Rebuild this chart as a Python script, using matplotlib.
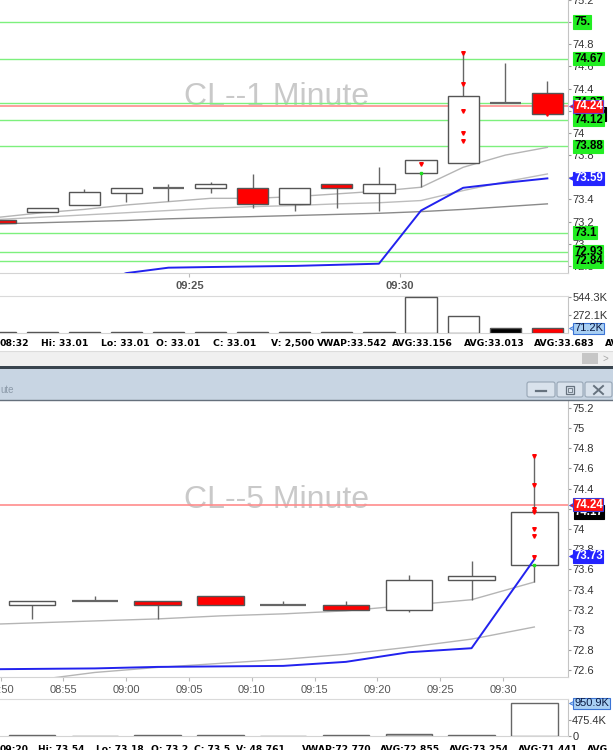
import matplotlib
matplotlib.use("Agg")
import numpy as np
import matplotlib.pyplot as plt
import matplotlib.transforms as mtransforms
from matplotlib.patches import Rectangle, FancyBboxPatch
from matplotlib.lines import Line2D

plt.rcParams['font.family'] = ['Liberation Sans', 'DejaVu Sans']

# ---------------- data ----------------
# 1 minute bars, minutes after 09:00
m1_minute = [20, 21, 22, 23, 24, 25, 26, 27, 28, 29, 30, 31, 32, 33]
m1_open = [73.21, 73.29, 73.35, 73.46, 73.50, 73.50, 73.50, 73.36, 73.54, 73.46, 73.64, 73.73, 74.27, 74.36]
m1_high = [73.21, 73.32, 73.49, 73.50, 73.54, 73.56, 73.63, 73.50, 73.54, 73.69, 73.76, 74.73, 74.63, 74.47]
m1_low = [73.19, 73.29, 73.35, 73.38, 73.39, 73.46, 73.32, 73.30, 73.32, 73.30, 73.51, 73.73, 74.27, 74.16]
m1_close = [73.19, 73.32, 73.47, 73.50, 73.50, 73.54, 73.36, 73.50, 73.50, 73.54, 73.76, 74.33, 74.27, 74.17]
m1_volume = [12, 9, 16, 10, 12, 9, 15, 11, 13, 14, 544.3, 260.2, 75.2, 71.2]  # thousands
m1_ma_fast = [73.24, 73.28, 73.31, 73.35, 73.38, 73.41, 73.41, 73.425, 73.45, 73.475, 73.51, 73.69, 73.80, 73.87]
m1_ma_mid = [73.22, 73.24, 73.26, 73.28, 73.30, 73.32, 73.335, 73.345, 73.36, 73.37, 73.39, 73.48, 73.56, 73.63]
m1_ma_slow = [73.18, 73.19, 73.20, 73.21, 73.225, 73.235, 73.245, 73.255, 73.265, 73.275, 73.29, 73.31, 73.335, 73.36]
m1_vwap = [np.nan, np.nan, 72.60, 72.735, 72.784, 72.79, 72.795, 72.80, 72.81, 72.82, 73.30, 73.505, 73.55, 73.59]

# 5 minute bars, minutes after 09:00 (08:50 .. 09:30)
m5_minute = [-10, -5, 0, 5, 10, 15, 20, 25, 30]
m5_open = [73.25, 73.29, 73.29, 73.34, 73.245, 73.25, 73.20, 73.50, 73.64]
m5_high = [73.29, 73.34, 73.29, 73.34, 73.29, 73.29, 73.54, 73.68, 74.73]
m5_low = [73.11, 73.29, 73.11, 73.245, 73.245, 73.20, 73.18, 73.30, 73.48]
m5_close = [73.29, 73.29, 73.245, 73.245, 73.245, 73.20, 73.50, 73.53, 74.17]
m5_volume = [18, 14, 20, 16, 14, 30, 48.761, 28, 950.9]  # thousands
m5_line_minute = [-15, -10, -5, 0, 5, 10, 15, 20, 25, 30]
m5_ma_fast = [73.05, 73.07, 73.09, 73.11, 73.14, 73.16, 73.19, 73.245, 73.30, 73.475]
m5_ma_slow = [72.42, 72.50, 72.58, 72.63, 72.67, 72.71, 72.76, 72.83, 72.91, 73.03]
m5_vwap = [72.61, 72.615, 72.62, 72.635, 72.64, 72.645, 72.685, 72.78, 72.82, 73.70]

# trade markers
trade_minute = [31, 31, 31, 31, 31, 30, 33]
trade_price = [74.72, 74.44, 74.20, 74.00, 73.93, 73.72, 74.17]
fill_minute = [30]
fill_price = [73.64]

# levels and tags
level_prices = [75.0, 74.67, 74.27, 74.12, 73.88, 73.1, 72.93, 72.84]
level_labels = ['75.', '74.67', '74.27', '74.12', '73.88', '73.1', '72.93', '72.84']
last_price = 74.24
last_close = 74.17
vwap_last_1 = 73.59
vwap_last_5 = 73.73

status_1 = ['08:32', 'Hi: 33.01', 'Lo: 33.01', 'O: 33.01', 'C: 33.01', 'V: 2,500',
            'VWAP:33.542', 'AVG:33.156', 'AVG:33.013', 'AVG:33.683', 'AV']
status_5 = ['09:20', 'Hi: 73.54', 'Lo: 73.18', 'O: 73.2', 'C: 73.5', 'V: 48,761',
            'VWAP:72.770', 'AVG:72.855', 'AVG:73.254', 'AVG:71.441', 'AVG']

# ---------------- layout ----------------
W, H = 613, 750
fig = plt.figure(figsize=(W / 100, H / 100), dpi=100)
fig.patch.set_facecolor('white')
fig_px = mtransforms.Affine2D().scale(1 / W, -1 / H).translate(0, 1) + fig.transFigure


def px_rect(x0, y0, x1, y1):
    return [x0 / W, 1 - y1 / H, (x1 - x0) / W, (y1 - y0) / H]


ax1 = fig.add_axes(px_rect(0, 0, 568, 273))
axv1 = fig.add_axes(px_rect(0, 296, 568, 333))
ax5 = fig.add_axes(px_rect(0, 401, 568, 677))
axv5 = fig.add_axes(px_rect(0, 699, 568, 736))

for ax in (ax1, axv1, ax5, axv5):
    ax.set_facecolor('white')
    ax.spines['left'].set_visible(False)
    ax.spines['right'].set_color('#c4c4c4')
    ax.spines['top'].set_color('#dadada')
    ax.spines['bottom'].set_color('#d4d4d4')
    ax.yaxis.tick_right()
    ax.tick_params(axis='y', length=2, width=0.8, color='#999999', labelsize=8,
                   labelcolor='#333333', pad=1)
ax1.spines['top'].set_visible(False)
ax5.spines['top'].set_visible(False)


def draw_candles(ax, centers, o, h, l, c, width):
    for x, op, hi, lo, cl in zip(centers, o, h, l, c):
        ax.vlines(x, lo, hi, color='#666666', lw=1, zorder=3)
        if cl == op:
            ax.hlines(cl, x - width / 2, x + width / 2, color='#666666', lw=1.6, zorder=4)
        else:
            fc = 'white' if cl > op else '#ff0000'
            ax.bar(x, abs(cl - op), width, bottom=min(op, cl), facecolor=fc,
                   edgecolor='#555555', lw=1, zorder=4)


def tag(ax, y, text, fc, tc, ec=None, arrow=False, dx=0.0, weight='bold', size=8.3):
    trans = mtransforms.blended_transform_factory(ax.transAxes, ax.transData)
    x0 = 1.0106 + dx
    ax.text(x0, y, text, transform=trans, ha='left', va='center', fontsize=size,
            fontweight=weight, color=tc, clip_on=False, zorder=20,
            bbox=dict(boxstyle='square,pad=0.06', fc=fc, ec=ec or fc, lw=0.8))
    if arrow:
        ax.plot([x0 - 0.0035], [y], marker='<', ms=5, mfc=fc, mec=ec or fc, mew=0.6,
                transform=trans, clip_on=False, zorder=19)


# ---------------- 1 minute price panel ----------------
c1 = [m + 0.5 for m in m1_minute]
ax1.set_xlim(20.5, 33.99)
ax1.set_ylim(72.736, 75.195)
ax1.text(0.486, 0.646, 'CL--1 Minute', transform=ax1.transAxes, ha='center', va='center',
         fontsize=23, color='#c9c9c9', zorder=0.5)
for p in level_prices:
    ax1.axhline(p, color='#7df07d', lw=1, zorder=1)
ax1.axhline(last_price, color='#ff8c8c', lw=1.2, zorder=1.2)
ax1.plot(c1, m1_ma_slow, color='#8a8a8a', lw=1, zorder=2)
ax1.plot(c1, m1_ma_mid, color='#bdbdbd', lw=1, zorder=2)
ax1.plot(c1, m1_ma_fast, color='#b5b5b5', lw=1, zorder=2)
draw_candles(ax1, c1, m1_open, m1_high, m1_low, m1_close, 0.74)
ax1.plot(c1, m1_vwap, color='#2222ee', lw=1.4, zorder=6)
ax1.plot([m + 0.5 for m in trade_minute], trade_price, 'v', color='#ff0000', ms=2.6, zorder=7, ls='none')
ax1.plot([m + 0.5 for m in fill_minute], fill_price, 's', color='#22dd22', ms=2, zorder=7, ls='none')

ticks1 = np.round(np.arange(72.8, 75.21, 0.2), 1)
ax1.set_yticks(ticks1)
ax1.set_yticklabels(['{:g}'.format(v) for v in ticks1])
ax1.set_xticks([25, 30])
ax1.set_xticklabels(['09:25', '09:30'])
ax1.tick_params(axis='x', length=3, color='#bbbbbb', labelsize=8, labelcolor='#555555', pad=2.5)
for t in ax1.get_xticklabels():
    t.set_fontweight('bold')

tag(ax1, last_close, '74.17', '#000000', 'white', dx=0.005)
for p, lab in zip(level_prices, level_labels):
    tag(ax1, p, lab, '#22ee22', 'black')
tag(ax1, last_price, '74.24', '#ff1010', 'white', ec='#6a3fd0', arrow=True)
tag(ax1, vwap_last_1, '73.59', '#2424ff', 'white', arrow=True)

# ---------------- 1 minute volume panel ----------------
axv1.set_xlim(ax1.get_xlim())
axv1.set_ylim(0, 565)
vol1_colors = ['white'] * 12 + ['black', '#ff0000']
axv1.bar(c1, m1_volume, 0.74, color=vol1_colors, edgecolor='#555555', lw=1, zorder=3)
axv1.set_xticks([])
axv1.set_yticks([272.1, 544.3])
axv1.set_yticklabels(['272.1K', '544.3K'])
tag(axv1, m1_volume[-1], '71.2K', '#a9cff3', '#0b1b44', ec='#3b74d6', arrow=True, weight='normal', size=8)

# ---------------- 5 minute price panel ----------------
c5 = [m + 2.5 for m in m5_minute]
cl5 = [m + 2.5 for m in m5_line_minute]
ax5.set_xlim(-10.05, 35.18)
ax5.set_ylim(72.535, 75.267)
ax5.text(0.486, 0.641, 'CL--5 Minute', transform=ax5.transAxes, ha='center', va='center',
         fontsize=23, color='#c9c9c9', zorder=0.5)
ax5.axhline(last_price, color='#ff8c8c', lw=1.2, zorder=1.2)
ax5.plot(cl5, m5_ma_slow, color='#b5b5b5', lw=1, zorder=2)
ax5.plot(cl5, m5_ma_fast, color='#b5b5b5', lw=1, zorder=2)
draw_candles(ax5, c5, m5_open, m5_high, m5_low, m5_close, 3.7)
ax5.plot(cl5, m5_vwap, color='#2222ee', lw=1.4, zorder=6)
bar5 = [np.floor(m / 5) * 5 + 2.5 for m in trade_minute]
ax5.plot(bar5, trade_price, 'v', color='#ff0000', ms=2.6, zorder=7, ls='none')
ax5.plot([np.floor(m / 5) * 5 + 2.5 for m in fill_minute], fill_price, 's', color='#22dd22',
         ms=2, zorder=7, ls='none')

ticks5 = np.round(np.arange(72.6, 75.21, 0.2), 1)
ax5.set_yticks(ticks5)
ax5.set_yticklabels(['{:g}'.format(v) for v in ticks5])
ax5.set_xticks(m5_minute)
ax5.set_xticklabels(['08:50', '08:55', '09:00', '09:05', '09:10', '09:15', '09:20', '09:25', '09:30'])
ax5.tick_params(axis='x', length=3, color='#bbbbbb', labelsize=8, labelcolor='#555555', pad=3)

tag(ax5, last_close, '74.17', '#000000', 'white', dx=0.001)
tag(ax5, last_price, '74.24', '#ff1010', 'white', ec='#3b3bd8', arrow=True)
tag(ax5, vwap_last_5, '73.73', '#2424ff', 'white', arrow=True)

# ---------------- 5 minute volume panel ----------------
axv5.set_xlim(ax5.get_xlim())
axv5.set_ylim(0, 1082)
vol5_colors = ['white'] * 6 + ['#c4c4c4', 'white', 'white']
axv5.bar(c5, m5_volume, 3.7, color=vol5_colors, edgecolor='#666666', lw=1, zorder=3)
axv5.set_xticks([])
axv5.set_yticks([0, 475.4])
axv5.set_yticklabels(['0', '475.4K'])
tag(axv5, m5_volume[-1], '950.9K', '#a9cff3', '#0b1b44', ec='#3b74d6', arrow=True, weight='normal', size=8)

# ---------------- status lines ----------------
status_x1 = [0, 41, 101, 156, 213, 271, 317, 392, 464, 534, 605]
status_x5 = [0, 38, 96, 151, 194, 236, 302, 380, 449, 518, 587]
for s, x in zip(status_1, status_x1):
    fig.text(x / W, 1 - 343.5 / H, s, ha='left', va='center', fontsize=6.7,
             family='DejaVu Sans', fontweight='bold', color='black')
for s, x in zip(status_5, status_x5):
    fig.text(x / W, 1 - 749.5 / H, s, ha='left', va='center', fontsize=6.6,
             family='DejaVu Sans', fontweight='bold', color='black')

# ---------------- scrollbar and window chrome ----------------
fig.patches.append(Rectangle((0, 351), W, 15, transform=fig_px, fc='#f0f0f0', ec='none'))
fig.lines.append(Line2D([0, W], [351, 351], transform=fig_px, color='#dcdcdc', lw=0.8))
fig.patches.append(Rectangle((582, 353), 16, 11, transform=fig_px, fc='#c6c6c6', ec='none'))
fig.text(605 / W, 1 - 358.5 / H, '>', ha='center', va='center', fontsize=7, color='#a8a8a8')
fig.patches.append(Rectangle((0, 366), W, 3, transform=fig_px, fc='#39454f', ec='none'))
fig.patches.append(Rectangle((0, 369), W, 31, transform=fig_px, fc='#c8d5e3', ec='none'))
fig.lines.append(Line2D([0, W], [400.3, 400.3], transform=fig_px, color='#65707c', lw=1))
fig.text(0, 1 - 390 / H, 'ute', ha='left', va='center', fontsize=7, color='#8c9aa9')
for bx0, bx1 in [(527, 555), (557, 583), (585, 612)]:
    fig.patches.append(FancyBboxPatch((bx0, 382), bx1 - bx0, 15, transform=fig_px,
                                      boxstyle='round,pad=0,rounding_size=2',
                                      fc='#d9e2ec', ec='#97a6b6', lw=0.8))
fig.lines.append(Line2D([536, 546], [390.5, 390.5], transform=fig_px, color='#66727e', lw=1.6))
fig.patches.append(Rectangle((566, 386), 8, 8, transform=fig_px, fc='none', ec='#66727e', lw=0.9))
fig.patches.append(Rectangle((568, 388), 4, 4, transform=fig_px, fc='none', ec='#66727e', lw=0.6))
fig.lines.append(Line2D([594, 603], [386, 394], transform=fig_px, color='#66727e', lw=1.4))
fig.lines.append(Line2D([594, 603], [394, 386], transform=fig_px, color='#66727e', lw=1.4))

fig.savefig('out.png', dpi=100)
